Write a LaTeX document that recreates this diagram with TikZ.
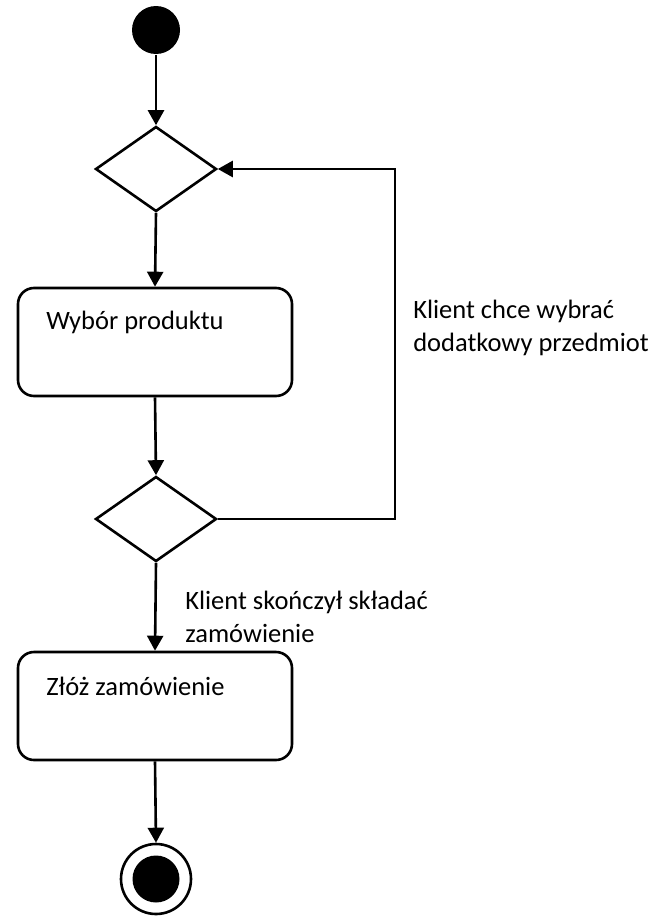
\documentclass[tikz,border=0pt]{standalone}
\usepackage{fontspec}
\setmainfont{Carlito}
\usetikzlibrary{shapes.geometric,arrows.meta}
\begin{document}
\begin{tikzpicture}[x=1pt,y=-1pt,
  every node/.style={line width=2.6pt},
  flow/.style={line width=2.6pt,-{Triangle[length=15pt,width=16pt]}},
  action/.style={draw,rounded corners=16pt,minimum width=274pt,minimum height=108pt,inner sep=0pt},
  decision/.style={draw,diamond,minimum width=121pt,minimum height=85pt,inner sep=0pt},
  txt/.style={font=\fontsize{26.5}{33}\selectfont,inner sep=0pt,align=left,anchor=west}]
\useasboundingbox (0,0) rectangle (667,918);
% initial and final states
\node[circle,fill=black,minimum size=48pt,inner sep=0pt] (start) at (156,30) {};
\node[circle,draw,minimum size=70pt,inner sep=0pt] (stop) at (156,879) {};
\node[circle,fill=black,minimum size=47pt,inner sep=0pt] (stopin) at (156,879) {};
% decisions
\node[decision] (d1) at (156,169) {};
\node[decision] (d2) at (156,519) {};
% actions
\node[action] (wybor) at (155,342) {};
\node[txt] (wybortxt) at (45,322) {Wybór produktu};
\node[action] (zloz) at (155,706) {};
\node[txt] (zloztxt) at (45,686) {Złóż zamówienie};
% guard labels
\node[txt] (gloop) at (412,328) {Klient chce wybrać\\dodatkowy przedmiot};
\node[txt] (gdone) at (184,617) {Klient skończył składać\\zamówienie};
% control flow
\coordinate (loopc) at (395,519);
\draw[flow] (start) -- (d1.north);
\draw[flow] (d1.south) -- (wybor.north);
\draw[flow] (wybor.south) -- (d2.north);
\draw[flow] (d2.east) -- (loopc) |- (d1.east);
\draw[flow] (d2.south) -- (zloz.north);
\draw[flow] (zloz.south) -- (stop.north);
\end{tikzpicture}
\end{document}
